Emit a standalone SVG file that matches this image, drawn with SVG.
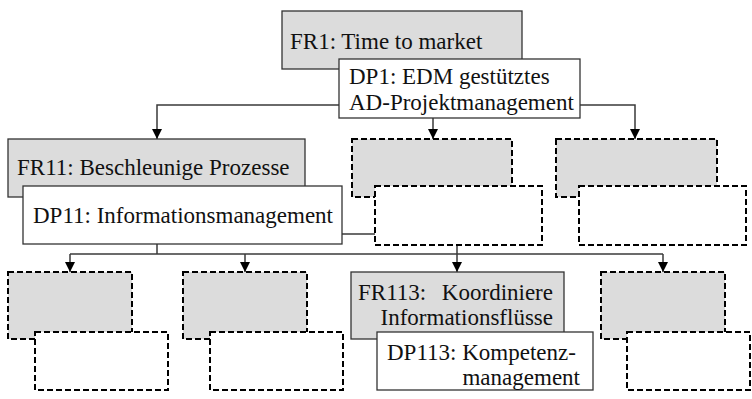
<svg xmlns="http://www.w3.org/2000/svg" width="752" height="399" viewBox="0 0 752 399" font-family="'Liberation Serif', 'Times New Roman', serif">
  <style>
    .fr { fill: #dcdcdc; stroke: #333; stroke-width: 1.3; }
    .dp { fill: #ffffff; stroke: #333; stroke-width: 1.3; }
    .fr-open { fill: #dcdcdc; stroke: #000; stroke-width: 2; stroke-dasharray: 6 3; }
    .dp-open { fill: #ffffff; stroke: #000; stroke-width: 2; stroke-dasharray: 6 3; }
    .lbl { font-family: 'Liberation Serif', 'Times New Roman', serif; font-size: 23px; fill: #111; }
    .end { text-anchor: end; }
    .link { fill: none; stroke: #3a3a3a; stroke-width: 1.5; }
  </style>
  <defs>
    <marker id="arrow" markerUnits="userSpaceOnUse" markerWidth="12" markerHeight="12" refX="10" refY="5" orient="auto">
      <path d="M0,0 L10,5 L0,10 Z" fill="#000"/>
    </marker>
  </defs>

  <rect width="752" height="399" fill="#ffffff"/>

  <!-- connectors -->
  <g id="connectors">
    <path class="link" d="M339,105 H157 V139" marker-end="url(#arrow)"/>
    <path class="link" d="M433,118 V139" marker-end="url(#arrow)"/>
    <path class="link" d="M580,105 H635 V139" marker-end="url(#arrow)"/>
    <path class="link" d="M342,234 H375"/>
    <path class="link" d="M157,244 V254"/>
    <path class="link" d="M70,254 H663"/>
    <path class="link" d="M70,254 V272" marker-end="url(#arrow)"/>
    <path class="link" d="M245,254 V272" marker-end="url(#arrow)"/>
    <path class="link" d="M457,245 V272" marker-end="url(#arrow)"/>
    <path class="link" d="M663,254 V272" marker-end="url(#arrow)"/>
  </g>

  <!-- level 1 -->
  <g id="fr1">
    <rect class="fr" x="282" y="11" width="240" height="58"/>
    <text class="lbl" x="290" y="49">FR1: Time to market</text>
  </g>
  <g id="dp1">
    <rect class="dp" x="339" y="59" width="241" height="59"/>
    <text class="lbl" x="349" y="84">DP1: EDM gestütztes</text>
    <text class="lbl" x="349" y="110">AD-Projektmanagement</text>
  </g>

  <!-- level 2 -->
  <g id="fr11">
    <rect class="fr" x="8" y="139" width="297" height="58"/>
    <text class="lbl" x="17" y="175">FR11: Beschleunige Prozesse</text>
  </g>
  <g id="dp11">
    <rect class="dp" x="23" y="186" width="319" height="58"/>
    <text class="lbl" x="33" y="223">DP11: Informationsmanagement</text>
  </g>
  <g id="fr12">
    <rect class="fr-open" x="352" y="139" width="160" height="58"/>
  </g>
  <g id="dp12">
    <rect class="dp-open" x="375" y="186" width="167" height="59"/>
  </g>
  <g id="fr13">
    <rect class="fr-open" x="556" y="139" width="161" height="58"/>
  </g>
  <g id="dp13">
    <rect class="dp-open" x="579" y="186" width="167" height="59"/>
  </g>

  <!-- level 3 -->
  <g id="fr111">
    <rect class="fr-open" x="8" y="272" width="124" height="67"/>
  </g>
  <g id="dp111">
    <rect class="dp-open" x="35" y="332" width="133" height="58"/>
  </g>
  <g id="fr112">
    <rect class="fr-open" x="183" y="272" width="124" height="67"/>
  </g>
  <g id="dp112">
    <rect class="dp-open" x="210" y="332" width="133" height="58"/>
  </g>
  <g id="fr113">
    <rect class="fr" x="351" y="272" width="213" height="67"/>
    <text class="lbl" x="358" y="300">FR113:</text>
    <text class="lbl end" x="553" y="300">Koordiniere</text>
    <text class="lbl end" x="553" y="325">Informationsflüsse</text>
  </g>
  <g id="dp113">
    <rect class="dp" x="377" y="332" width="216" height="58"/>
    <text class="lbl" x="387" y="360">DP113: Kompetenz-</text>
    <text class="lbl end" x="580" y="385">management</text>
  </g>
  <g id="fr114">
    <rect class="fr-open" x="601" y="272" width="124" height="67"/>
  </g>
  <g id="dp114">
    <rect class="dp-open" x="627" y="332" width="123" height="58"/>
  </g>
</svg>
